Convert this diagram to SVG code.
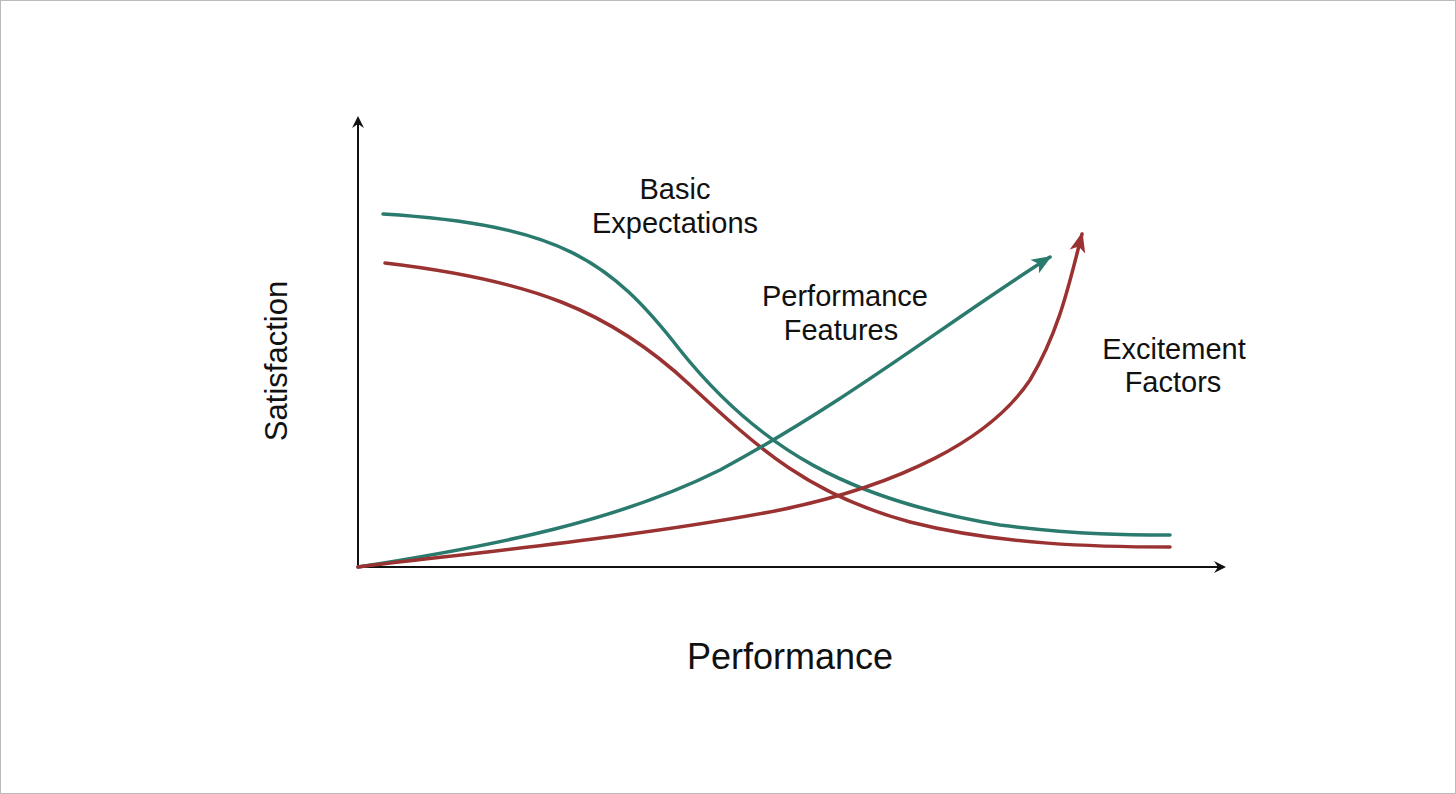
<svg xmlns="http://www.w3.org/2000/svg" width="1456" height="794" viewBox="0 0 1456 794">
<defs>
<style>
text{font-family:"Liberation Sans",Arial,sans-serif;fill:#111}
.c{fill:none;stroke-width:3.5;stroke-linecap:round}
.t{stroke:#2a7a6e}.r{stroke:#9b3232}
.ax{stroke:#111;stroke-width:2;fill:none}
</style>
<marker id="ak" markerWidth="12" markerHeight="12" refX="10" refY="6" orient="auto" markerUnits="userSpaceOnUse"><path d="M0,0 L12,6 L0,12 L4,6 Z" fill="#111"/></marker>
<marker id="at" markerWidth="22" markerHeight="20" refX="18" refY="10" orient="auto" markerUnits="userSpaceOnUse"><path d="M0,2 L20,10 L0,18 L5,10 Z" fill="#2a7a6e"/></marker>
<marker id="ar" markerWidth="22" markerHeight="20" refX="18" refY="10" orient="auto" markerUnits="userSpaceOnUse"><path d="M0,2 L20,10 L0,18 L5,10 Z" fill="#9b3232"/></marker>
</defs>
<rect x="0.5" y="0.5" width="1455" height="793" fill="#fff" stroke="#bbb"/>
<g id="connectors">
<path class="ax" d="M358,567 V118" marker-end="url(#ak)"/>
<path class="ax" d="M358,567 H1224" marker-end="url(#ak)"/>
<path class="c t" d="M383,214 C560,225 610,260 680,350 C760,450 850,500 1000,525 C1080,535 1130,535 1170,535"/>
<path class="c r" d="M385,263 C530,280 610,310 690,385 C760,450 810,495 910,522 C1000,545 1100,547 1170,547"/>
<path class="c t" d="M358,567 C500,545 620,520 720,470 C850,400 950,320 1050,257" marker-end="url(#at)"/>
<path class="c r" d="M358,567 C500,550 650,535 780,510 C900,485 990,440 1030,380 C1060,330 1070,280 1082,234" marker-end="url(#ar)"/>
</g>
<g id="basic"><text x="675" y="199" font-size="29" text-anchor="middle">Basic</text><text x="675" y="233" font-size="29" text-anchor="middle">Expectations</text></g>
<g id="performance-features"><text x="845" y="306" font-size="29" text-anchor="middle">Performance</text><text x="841" y="340" font-size="29" text-anchor="middle">Features</text></g>
<g id="excitement"><text x="1174" y="359" font-size="29" text-anchor="middle">Excitement</text><text x="1173" y="392" font-size="29" text-anchor="middle">Factors</text></g>
<g id="ylabel"><text transform="translate(287,361) rotate(-90)" font-size="31" text-anchor="middle">Satisfaction</text></g>
<g id="xlabel"><text x="790" y="669" font-size="36" text-anchor="middle">Performance</text></g>
</svg>
